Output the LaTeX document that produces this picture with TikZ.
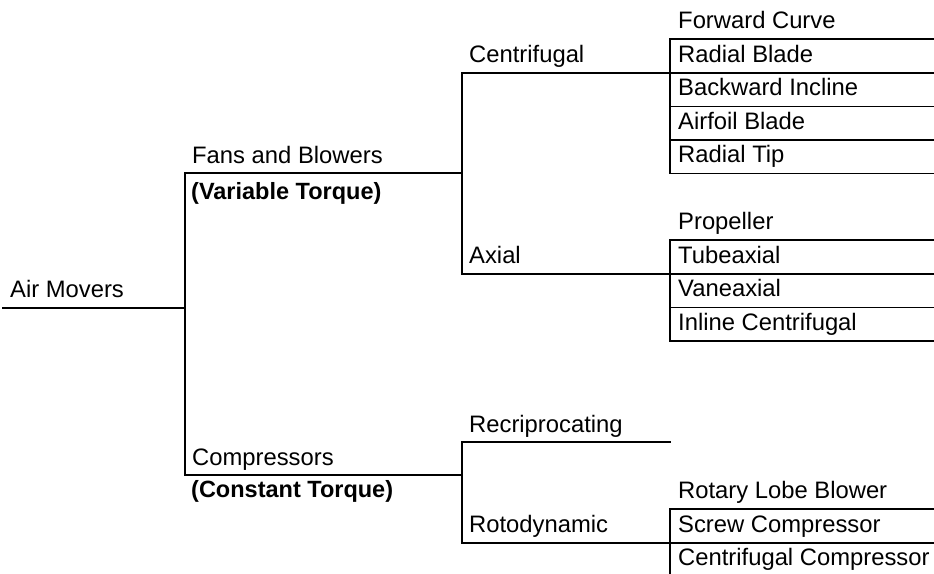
\documentclass[tikz,border=0pt]{standalone}
\usepackage{fontspec}
\setmainfont{Liberation Sans}
\begin{document}
\begin{tikzpicture}[x=1pt, y=-1pt,
  tree/.style={line width=1.7pt, line cap=rect, draw=black},
  lbl/.style={anchor=base west, inner sep=0pt, font=\fontsize{23.8}{28}\selectfont},
  note/.style={lbl, font=\fontsize{23.5}{28}\selectfont\bfseries}]
\useasboundingbox (0,0) rectangle (934,573);

% ---- branch points ----
\coordinate (root) at (3,308);
\coordinate (j0) at (185,308);
\coordinate (fanJ) at (185,173);
\coordinate (cmpJ) at (185,475);
\coordinate (fanE) at (462,173);
\coordinate (cmpE) at (462,475);
\coordinate (cenJ) at (462,73);
\coordinate (axJ) at (462,274);
\coordinate (recJ) at (462,442);
\coordinate (rotJ) at (462,543);
\coordinate (cenE) at (670,73);
\coordinate (axE) at (670,274);
\coordinate (recE) at (670,442);
\coordinate (rotE) at (670,543);

% ---- labels ----
\node[lbl] (air) at (10,297) {Air Movers};
\node[lbl] (fans) at (192,163) {Fans and Blowers};
\node[note] (fansT) at (191,199) {(Variable Torque)};
\node[lbl] (comp) at (192,465) {Compressors};
\node[note] (compT) at (191,497) {(Constant Torque)};
\node[lbl] (cen) at (469,62) {Centrifugal};
\node[lbl] (ax) at (469,263) {Axial};
\node[lbl] (rec) at (469,432) {Recriprocating};
\node[lbl] (rot) at (469,532) {Rotodynamic};

\node[lbl] (fc) at (678,28) {Forward Curve};
\node[lbl] (rb) at (678,62) {Radial Blade};
\node[lbl] (bi) at (678,95.5) {Backward Incline};
\node[lbl] (ab) at (678,129) {Airfoil Blade};
\node[lbl] (rt) at (678,162.5) {Radial Tip};

\node[lbl] (pr) at (678,229) {Propeller};
\node[lbl] (tu) at (678,263) {Tubeaxial};
\node[lbl] (va) at (678,296.5) {Vaneaxial};
\node[lbl] (ic) at (678,330) {Inline Centrifugal};

\node[lbl] (rl) at (678,498.5) {Rotary Lobe Blower};
\node[lbl] (sc) at (678,532) {Screw Compressor};
\node[lbl] (cc) at (678,565.5) {Centrifugal Compressor};

% ---- tree connectors ----
\draw[tree] (root) -- (j0);
\draw[tree] (fanJ) -- (cmpJ);
\draw[tree] (fanJ) -- (fanE);
\draw[tree] (cmpJ) -- (cmpE);
\draw[tree] (cenJ) -- (axJ);
\draw[tree] (cenJ) -- (cenE);
\draw[tree] (axJ) -- (axE);
\draw[tree] (recJ) -- (rotJ);
\draw[tree] (recJ) -- (recE);
\draw[tree] (rotJ) -- (rotE);

% ---- leaf lists (ruled rows) ----
\foreach \name/\y in {c0/39, c1/73, c2/106.5, c3/140, c4/173.5,
                      a0/240, a1/274, a2/307.5, a3/341,
                      r0/509, r1/543}
  \coordinate (\name) at (670,\y);
\draw[tree] (c0) -- (c4);
\draw[tree] (a0) -- (a3);
\coordinate (rEnd) at (670,573);
\draw[tree] (r0) -- (rEnd);
\foreach \name in {c0,c1,c2,c3,c4,a0,a1,a2,a3,r0,r1}
  \draw[tree] (\name) -- (\name -| 934,0);
\end{tikzpicture}
\end{document}
